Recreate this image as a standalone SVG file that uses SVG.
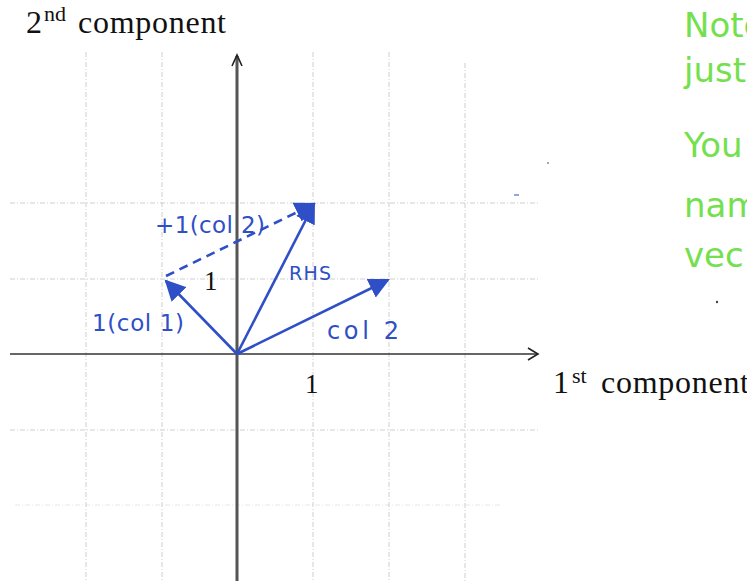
<svg xmlns="http://www.w3.org/2000/svg" width="747" height="581" viewBox="0 0 747 581">
<style>
.grid{stroke:#cfcfcf;stroke-width:1;stroke-dasharray:5 2 1 2;fill:none}
.tex{font-family:"Liberation Serif","DejaVu Serif",serif;fill:#111}
.hand{font-family:"DejaVu Sans","Liberation Sans",sans-serif;fill:#2f4fc6}
.vec{stroke:#2f4fc6;stroke-width:2.6;fill:none;marker-end:url(#bh)}
.green{font-family:"DejaVu Sans","Liberation Sans",sans-serif;fill:#74e04e;font-size:34px}
</style>
<defs>
<marker id="bh" viewBox="0 0 10 10" refX="9" refY="5" markerWidth="8" markerHeight="8" markerUnits="strokeWidth" orient="auto">
<path d="M0,0 L10,5 L0,10 z" fill="#2f4fc6"/>
</marker>
</defs>
<rect width="747" height="581" fill="#fff"/>
<g id="grid">
<line class="grid" x1="86" y1="52" x2="86" y2="581"/>
<line class="grid" x1="162" y1="52" x2="162" y2="581"/>
<line class="grid" x1="313" y1="52" x2="313" y2="581"/>
<line class="grid" x1="389" y1="52" x2="389" y2="581"/>
<line class="grid" x1="465" y1="63" x2="465" y2="581"/>
<line class="grid" x1="10" y1="203" x2="540" y2="203"/>
<line class="grid" x1="10" y1="279" x2="540" y2="279"/>
<line class="grid" x1="10" y1="430" x2="540" y2="430"/>
<line class="grid" x1="15" y1="505" x2="500" y2="505" stroke-opacity="0.5"/>
</g>
<g id="axes">
<line x1="10" y1="354" x2="538" y2="354" stroke="#333" stroke-width="1.6"/>
<path d="M528,348 L538,354 L528,360" fill="none" stroke="#222" stroke-width="1.6"/>
<line x1="237" y1="56" x2="237" y2="581" stroke="#555" stroke-width="3"/>
<path d="M232,66 L237,55 L242,66" fill="none" stroke="#222" stroke-width="1.6"/>
</g>
<g id="axis-labels">
<text class="tex" x="26" y="33" font-size="32">2</text>
<text class="tex" x="44" y="21" font-size="22">nd</text>
<text class="tex" x="78" y="33" font-size="32" textLength="148">component</text>
<text class="tex" x="553" y="393" font-size="32">1</text>
<text class="tex" x="572" y="383" font-size="22">st</text>
<text class="tex" x="601" y="393" font-size="32" textLength="148">component</text>
<text class="tex" x="204" y="290" font-size="27">1</text>
<text class="tex" x="305" y="393" font-size="27">1</text>
</g>
<g id="connectors">
<line class="vec" x1="237" y1="354" x2="166" y2="281"/>
<line class="vec" x1="237" y1="354" x2="314" y2="204"/>
<line class="vec" x1="237" y1="354" x2="388" y2="280"/>
<line class="vec" x1="166" y1="276" x2="314" y2="204" stroke-dasharray="9 6"/>
</g>
<g id="vector-labels">
<text class="hand" x="155" y="233" font-size="23" textLength="110">+1(col 2)</text>
<text class="hand" x="92" y="331" font-size="23" textLength="92">1(col 1)</text>
<text class="hand" x="289" y="280" font-size="19" textLength="42">RHS</text>
<text class="hand" x="327" y="339" font-size="24" textLength="72">col 2</text>
</g>
<g id="note">
<text class="green" x="684" y="37">Note</text>
<text class="green" x="684" y="82">just</text>
<text class="green" x="684" y="157">You</text>
<text class="green" x="684" y="217">nam</text>
<text class="green" x="684" y="267">vec</text>
<circle cx="717" cy="302" r="1.2" fill="#444"/>
<circle cx="548" cy="163" r="1" fill="#888"/>
<line x1="514" y1="195" x2="519" y2="195" stroke="#6a8ad8" stroke-width="1.5"/>
</g>
</svg>
